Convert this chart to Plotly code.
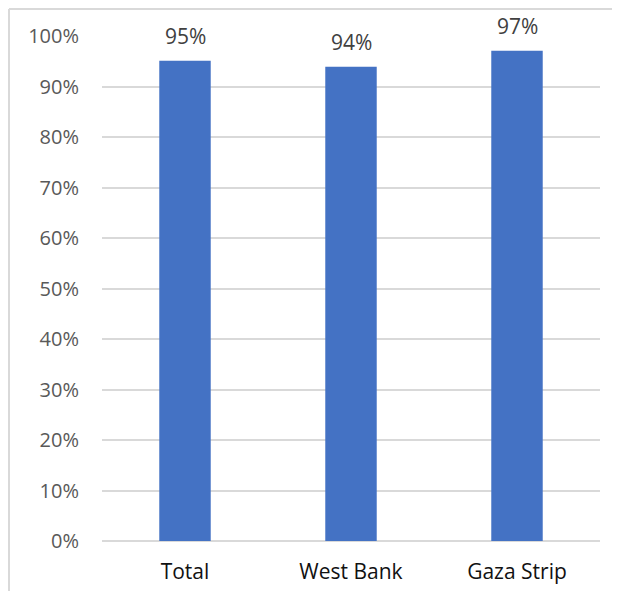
import plotly.graph_objects as go

categories = ["Total", "West Bank", "Gaza Strip"]
values = [0.951, 0.939, 0.971]
labels = ["95%", "94%", "97%"]
y_ticks = [i / 10 for i in range(11)]
y_tick_text = [f"{i*10}%" for i in range(11)]

OFF = 8  # page body margin offset
W, H = 620 - 2 * OFF, 599 - 2 * OFF
L, T = 102 - OFF, 36 - OFF
R = W - (600 - OFF)
B = H - (541 - OFF)
pw, ph = W - L - R, H - T - B

fig = go.Figure()
fig.add_trace(go.Bar(
    x=categories, y=values, marker=dict(color="#4472C4", line=dict(width=0)),
    width=0.31, hoverinfo="skip",
))
for c, v, t in zip(categories, values, labels):
    fig.add_annotation(x=c, y=v, text=t, showarrow=False, yanchor="middle", yshift=25,
                       font=dict(family="Open Sans", size=21, color="#404040"))

border = dict(color="#d9d9d9", width=2)
# top border
fig.add_shape(type="line", xref="paper", yref="paper",
              x0=(1 - L) / pw, x1=(W - L) / pw,
              y0=(H - B - 1) / ph, y1=(H - B - 1) / ph, line=border, layer="below")
# left border
fig.add_shape(type="line", xref="paper", yref="paper",
              x0=(1 - L) / pw, x1=(1 - L) / pw,
              y0=-B / ph, y1=(H - B - 1) / ph, line=border, layer="below")

fig.update_layout(
    width=W, height=H, margin=dict(l=L, r=R, t=T, b=B),
    plot_bgcolor="white", paper_bgcolor="white", showlegend=False,
    font=dict(family="Open Sans", size=20),
    xaxis=dict(showgrid=False, showline=False, ticks="", ticklabelstandoff=16,
               automargin=False, tickfont=dict(color="#111111", size=21)),
    yaxis=dict(range=[0, 1.0], tickvals=y_ticks, ticktext=y_tick_text,
               showgrid=True, gridcolor="#d9d9d9", gridwidth=1.5,
               zeroline=True, zerolinecolor="#d9d9d9", zerolinewidth=1.5,
               showline=False, ticks="", ticklabelstandoff=22, automargin=False,
               tickfont=dict(color="#595959", size=20)),
)
fig.write_html("out.html")
